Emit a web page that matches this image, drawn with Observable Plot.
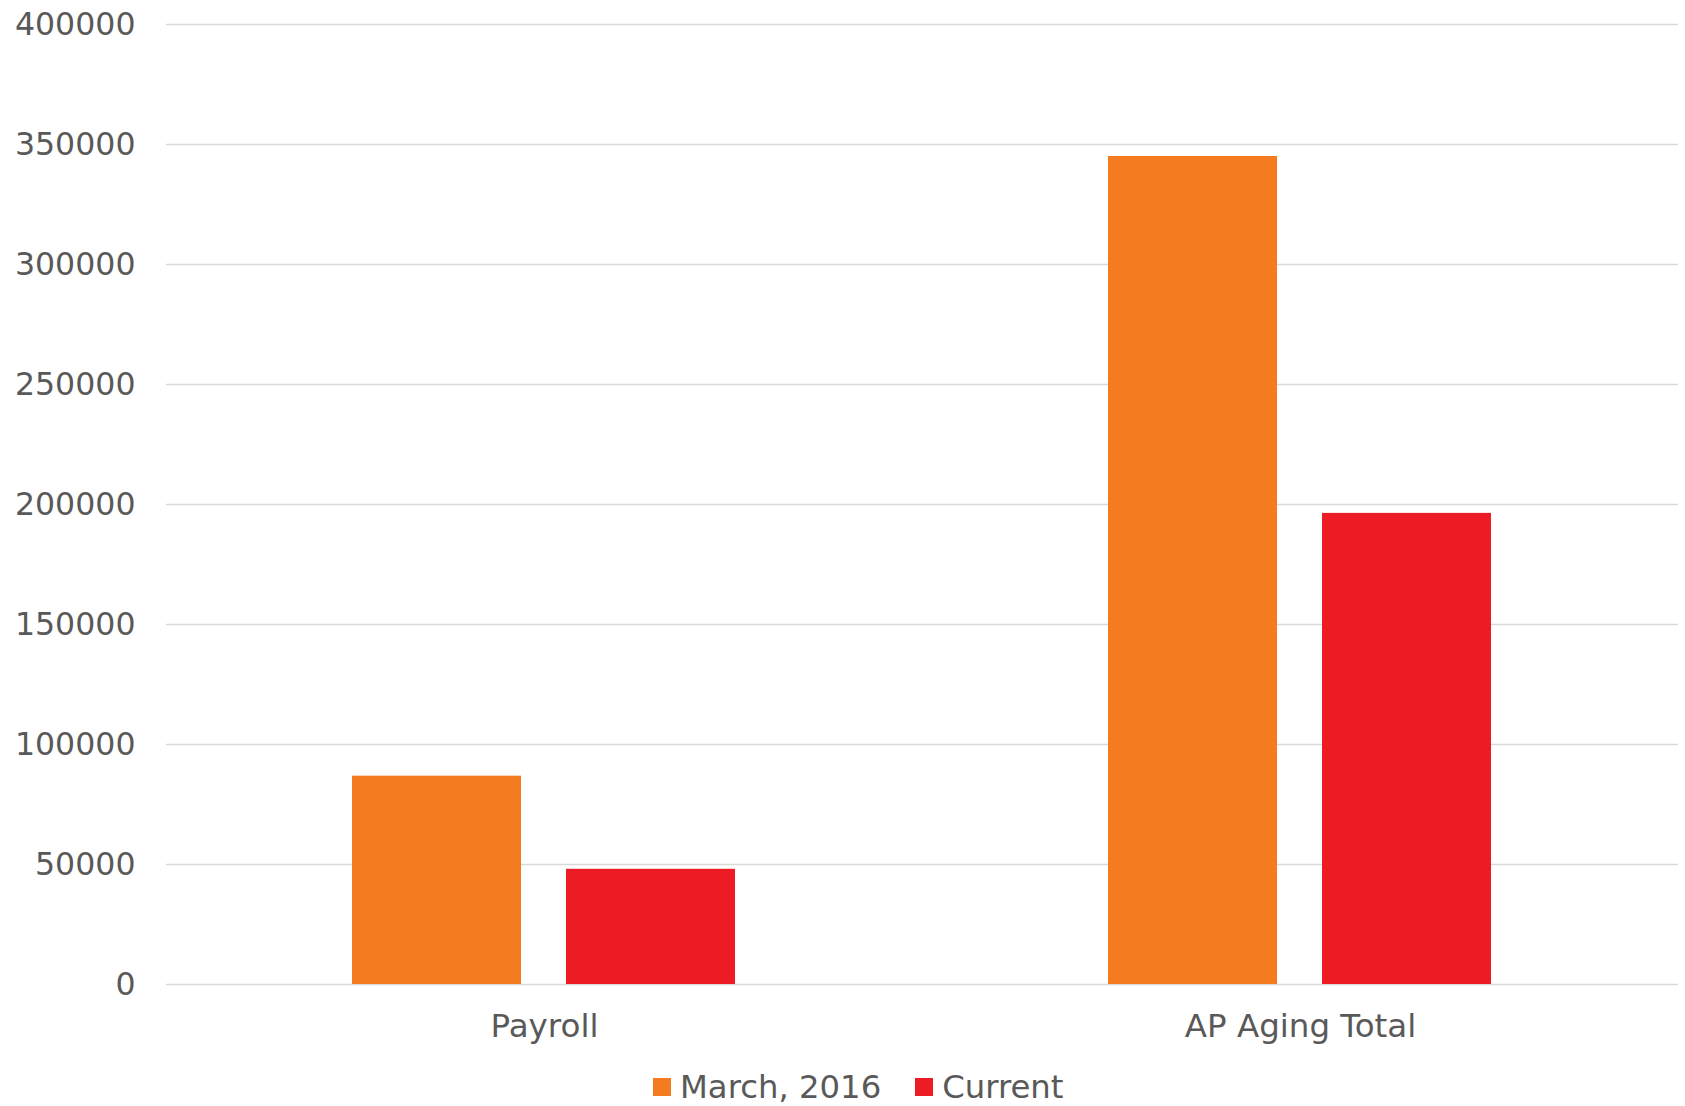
<!DOCTYPE html>
<html><head><meta charset="utf-8">
<script src="https://cdn.jsdelivr.net/npm/d3@7"></script>
<script src="https://cdn.jsdelivr.net/npm/@observablehq/plot@0.6"></script>
<style>
body{margin:0;background:#fff;font-family:"DejaVu Sans",Verdana,sans-serif;}
#chart{position:relative;width:1685px;height:1106px;overflow:hidden;}
#legend{position:absolute;left:653px;top:1069px;height:36px;display:flex;align-items:center;font-size:32.3px;color:#595959;white-space:nowrap;}
.item{display:flex;align-items:center;}
.sw{width:18px;height:18px;margin-right:9px;}
#chart svg g[aria-label="fx-axis tick label"] text{font-size:32.5px;}
</style></head><body><div id="chart"></div>
<script>
const categories = ["Payroll", "AP Aging Total"];
const seriesNames = ["March, 2016", "Current"];
const march2016 = [86800, 345000];
const current = [48000, 196300];
const colors = ["#F47B20", "#ED1C24"];
const yTicks = [0, 50000, 100000, 150000, 200000, 250000, 300000, 350000, 400000];

const data = categories.flatMap((c, i) => [
  {category: c, series: seriesNames[0], value: march2016[i]},
  {category: c, series: seriesNames[1], value: current[i]}
]);

const plot = Plot.plot({
  width: 1685, height: 1050,
  marginLeft: 166, marginRight: 7, marginTop: 24, marginBottom: 66,
  style: {fontFamily: "'DejaVu Sans', Verdana, sans-serif", fontSize: "31.6px", color: "#595959", background: "#fff"},
  fx: {domain: categories, padding: 0, label: null, axis: "bottom", tickSize: 0, tickPadding: 29},
  x: {domain: seriesNames, paddingInner: 0.209, paddingOuter: 0.863, axis: null},
  y: {domain: [0, 400000], ticks: yTicks, tickSize: 0, tickPadding: 31, label: null, tickFormat: d => String(d)},
  color: {domain: seriesNames, range: colors},
  marks: [
    Plot.gridY(yTicks, {stroke: "#D9D9D9", strokeOpacity: 1, strokeWidth: 1.5}),
    Plot.barY(data, {fx: "category", x: "series", y: "value", fill: "series"})
  ]
});
const chart = document.getElementById("chart");
chart.appendChild(plot);

const legend = document.createElement("div");
legend.id = "legend";
seriesNames.forEach((s, i) => {
  const item = document.createElement("div");
  item.className = "item";
  if (i > 0) item.style.marginLeft = "34px";
  const sw = document.createElement("div");
  sw.className = "sw";
  sw.style.background = colors[i];
  const t = document.createElement("span");
  t.textContent = s;
  item.appendChild(sw); item.appendChild(t);
  legend.appendChild(item);
});
chart.appendChild(legend);
</script></body></html>
